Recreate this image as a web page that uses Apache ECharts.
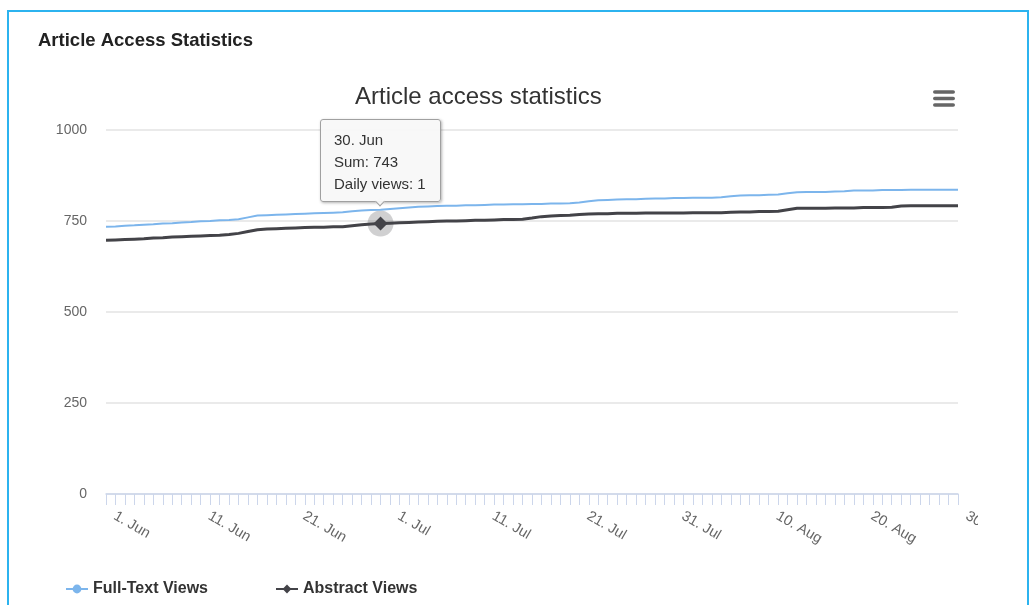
<!DOCTYPE html>
<html>
<head>
<meta charset="utf-8">
<script src="https://cdn.jsdelivr.net/npm/echarts@6/dist/echarts.min.js"></script>
<style>
html, body { margin: 0; padding: 0; background: #fff; width: 1032px; height: 605px; overflow: hidden; }
#frame { position: absolute; left: 7px; top: 10px; width: 1022px; height: 700px; border: 2px solid #2cb3ef; box-sizing: border-box; z-index: 0; }
#chart { position: absolute; left: 0; top: 0; width: 978px; height: 605px; z-index: 1; }
</style>
</head>
<body>
<div id="frame"></div>
<div id="chart"></div>
<script>
// ---- data ----
const months = [['Jun', 30], ['Jul', 31], ['Aug', 30]];
const categories = [];
months.forEach(([m, n]) => { for (let d = 1; d <= n; d++) categories.push(d + '. ' + m); });

const seriesNames = ['Full-Text Views', 'Abstract Views'];

const fullTextViews = [
  734, 735, 737, 738, 740, 741, 743, 744, 746, 747,
  749, 750, 752, 753, 755, 760, 765, 766, 767, 768,
  769, 770, 771, 772, 773, 774, 777, 779, 780, 781,
  783, 785, 787, 789, 790, 791, 792, 792, 793, 793,
  794, 795, 795, 796, 796, 797, 797, 798, 798, 799,
  801, 804, 807, 808, 809, 810, 810, 811, 812, 812, 813,
  813, 814, 814, 814, 815, 818, 820, 821, 821, 822,
  823, 826, 829, 830, 830, 830, 831, 832, 834, 834,
  834, 835, 835, 835, 836, 836, 836, 836, 836, 836
];

const abstractViews = [
  697, 698, 699, 700, 701, 703, 704, 706, 707, 708,
  709, 710, 711, 713, 716, 721, 726, 728, 729, 730,
  731, 732, 733, 733, 734, 734, 737, 740, 742, 743,
  744, 745, 746, 747, 748, 749, 750, 750, 751, 752,
  752, 753, 754, 754, 755, 758, 762, 764, 765, 766,
  768, 769, 770, 770, 771, 771, 771, 772, 772, 772, 772,
  772, 773, 773, 773, 773, 774, 775, 775, 776, 776,
  777, 781, 785, 785, 785, 785, 786, 786, 786, 787,
  787, 787, 788, 791, 792, 792, 792, 792, 792, 792
];

const yTicks = [0, 250, 500, 750, 1000];
const hoverCategory = '30. Jun';

// ---- chart ----
const FONT = '"Liberation Sans", Arial, Helvetica, sans-serif';
const hoverIndex = categories.indexOf(hoverCategory);
const seriesValues = [fullTextViews, abstractViews];

const chart = echarts.init(document.getElementById('chart'), null, { renderer: 'canvas' });

chart.setOption({
  animation: false,
  backgroundColor: 'transparent',
  textStyle: { fontFamily: FONT },
  graphic: [
    { type: 'text', x: 38, y: 41, silent: true,
      style: { text: 'Article Access Statistics', font: 'bold 18.5px ' + FONT, fill: '#222', align: 'left', verticalAlign: 'middle' } },
    { type: 'text', x: 355, y: 97, silent: true,
      style: { text: 'Article access statistics', font: '24px ' + FONT, fill: '#333', align: 'left', verticalAlign: 'middle' } },
    { type: 'rect', silent: true, shape: { x: 933, y: 90.2, width: 22, height: 3.6, r: 1.8 }, style: { fill: '#666' } },
    { type: 'rect', silent: true, shape: { x: 933, y: 96.7, width: 22, height: 3.6, r: 1.8 }, style: { fill: '#666' } },
    { type: 'rect', silent: true, shape: { x: 933, y: 103.2, width: 22, height: 3.6, r: 1.8 }, style: { fill: '#666' } }
  ],
  grid: { left: 106, top: 130, width: 852, height: 364, containLabel: false, outerBoundsMode: 'none' },
  legend: {
    left: 60, top: 576, itemWidth: 22, itemHeight: 11, itemGap: 67,
    selectedMode: false,
    data: seriesNames,
    textStyle: { fontSize: 16, fontWeight: 'bold', color: '#333', fontFamily: FONT }
  },
  tooltip: {
    trigger: 'item', triggerOn: 'none', alwaysShowContent: true, position: 'top',
    transitionDuration: 0,
    backgroundColor: 'rgba(247,247,247,0.92)', borderColor: '#a0a0a0', borderWidth: 1, borderRadius: 3,
    padding: [9, 14, 6, 13],
    textStyle: { fontFamily: FONT, fontSize: 15, color: '#333', lineHeight: 22 },
    extraCssText: 'box-shadow: 1px 1px 3px rgba(0,0,0,0.3); line-height:22px; margin-top:-5px;',
    formatter: function (p) {
      const vals = seriesValues[p.seriesIndex];
      const prev = p.dataIndex > 0 ? vals[p.dataIndex - 1] : 0;
      return p.name + '<br/>Sum: ' + p.value + '<br/>Daily views: ' + (p.value - prev);
    }
  },
  xAxis: {
    type: 'category', data: categories, boundaryGap: false,
    axisLine: { show: true, lineStyle: { color: '#ccd6eb', width: 1.5 } },
    axisTick: { show: true, interval: 0, length: 11, lineStyle: { color: '#ccd6eb', width: 1 } },
    axisLabel: { interval: 9, rotate: -30, margin: 16, padding: [0, 0, 0, 10], color: '#666', fontSize: 14.5, fontFamily: FONT },
    splitLine: { show: false }
  },
  yAxis: {
    type: 'value', min: yTicks[0], max: yTicks[yTicks.length - 1], interval: yTicks[1] - yTicks[0],
    axisLine: { show: false }, axisTick: { show: false },
    splitLine: { show: true, lineStyle: { color: '#e3e3e3', width: 1.5 } },
    axisLabel: { color: '#666', fontSize: 14, margin: 19, fontFamily: FONT, formatter: function (v) { return String(v); } }
  },
  series: [
    {
      name: seriesNames[0], type: 'line', data: fullTextViews,
      symbol: 'circle', showSymbol: false,
      lineStyle: { color: '#7cb5ec', width: 2 }, itemStyle: { color: '#7cb5ec' },
      emphasis: { disabled: true }, z: 2
    },
    {
      name: seriesNames[1], type: 'line', data: abstractViews,
      symbol: 'diamond', showSymbol: true, showAllSymbol: true,
      symbolSize: function (v, p) { return p.dataIndex === hoverIndex ? 14 : 0; },
      lineStyle: { color: '#434348', width: 3 }, itemStyle: { color: '#434348' },
      emphasis: { disabled: true }, z: 3,
      markPoint: {
        z: 1, silent: true, label: { show: false },
        data: [{ coord: [categories[hoverIndex], abstractViews[hoverIndex]], symbol: 'circle', symbolSize: 26,
                 itemStyle: { color: 'rgba(67,67,72,0.25)' } }]
      }
    }
  ]
});

function showTip() {
  chart.dispatchAction({ type: 'showTip', seriesIndex: 1, dataIndex: hoverIndex });
}
showTip();
setTimeout(showTip, 50);
</script>
</body>
</html>
